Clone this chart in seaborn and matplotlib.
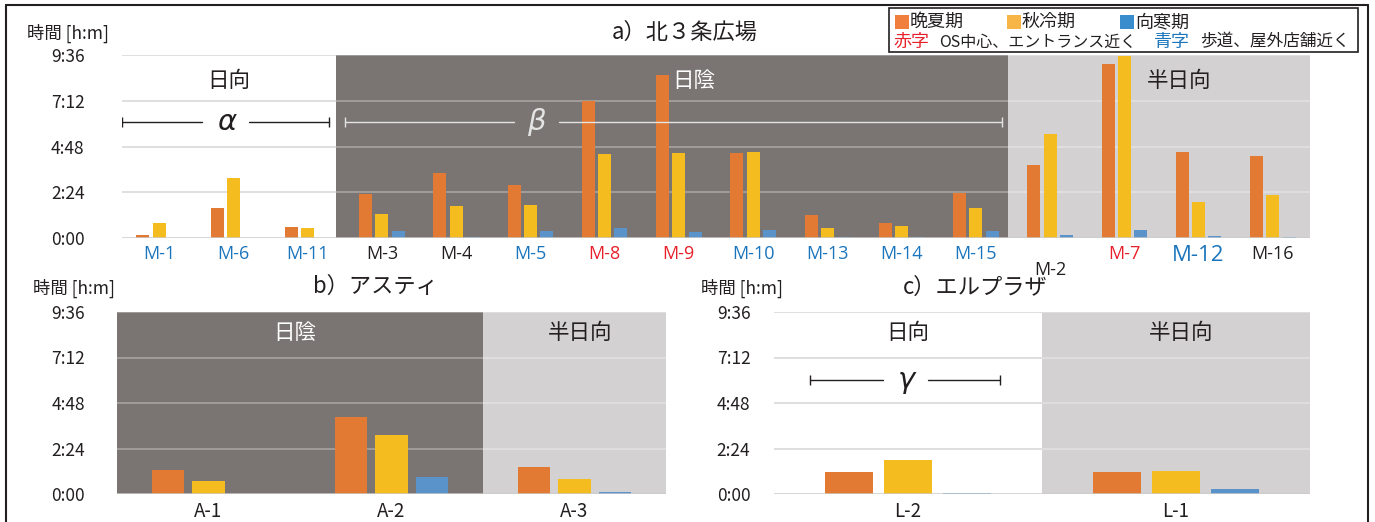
import matplotlib
matplotlib.use("Agg")
import matplotlib.pyplot as plt
import numpy as np
import pandas as pd
import seaborn as sns
from matplotlib import font_manager
from matplotlib.lines import Line2D
from matplotlib.patches import Rectangle

# ---------------- data (minutes of stay) ----------------
periods = ["晩夏期", "秋冷期", "向寒期"]

sites_a = ["M-1", "M-6", "M-11", "M-3", "M-4", "M-5", "M-8", "M-9",
           "M-10", "M-13", "M-14", "M-15", "M-2", "M-7", "M-12", "M-16"]
late_summer_a = [8, 93, 34, 139, 206, 168, 430, 512, 267, 71, 46, 143, 231, 547, 271, 259]
autumn_a = [47, 188, 30, 76, 100, 105, 264, 267, 271, 30, 39, 96, 326, 572, 114, 134]
early_winter_a = [0, 0, 0, 22, 4, 22, 30, 18, 26, 2, 2, 22, 9, 26, 5, 2]
label_kind_a = ["blue", "blue", "blue", "black", "black", "blue", "red", "red",
                "blue", "blue", "blue", "blue", "black", "red", "blue", "black"]
zones_a = ["日向", "日陰", "半日向"]
zone_edges_a = [-0.5, 2.38, 11.43, 15.5]

sites_b = ["A-1", "A-2", "A-3"]
late_summer_b = [77, 245, 85]
autumn_b = [41, 187, 46]
early_winter_b = [0, 54, 6]
zones_b = ["日陰", "半日向"]
zone_edges_b = [-0.5, 1.5, 2.5]

sites_c = ["L-2", "L-1"]
late_summer_c = [69, 69]
autumn_c = [107, 73]
early_winter_c = [3, 16]
zones_c = ["日向", "半日向"]
zone_edges_c = [-0.5, 0.5, 1.5]

tick_minutes = [0, 144, 288, 432, 576]
tick_labels = ["0:00", "2:24", "4:48", "7:12", "9:36"]

# ---------------- style ----------------
sns.set_theme(style="white")
JP = "Noto Sans CJK JP"
plt.rcParams["font.family"] = [JP, "DejaVu Sans"]
installed = {f.name for f in font_manager.fontManager.ttflist}
NARROW = "Liberation Sans Narrow" if "Liberation Sans Narrow" in installed else JP
LATIN = "Open Sans" if "Open Sans" in installed else JP

bar_colors = ["#E37A33", "#F4BC1E", "#5A93C9"]
legend_colors = ["#F07F3E", "#F7B548", "#3A8DCD"]
text_black = "#231F20"
label_colors = {"blue": "#1B75BC", "red": "#E8202A", "black": text_black}
zone_fill = {"日向": "#FFFFFF", "日陰": "#7A7572", "半日向": "#D3D1D2"}
zone_grid = {"日向": "#D9D9D9", "日陰": "#A7A3A0", "半日向": "#E2E1E2"}
zone_text = {"日向": text_black, "日陰": "#FFFFFF", "半日向": text_black}

W, H = 1375, 522
fig = plt.figure(figsize=(W / 100, H / 100), dpi=100)


def fx(x):
    return x / W


def fy(y):
    return 1 - y / H


def make_frame(sites, ls, au, ew):
    return pd.DataFrame({
        "site": np.repeat(sites, 3),
        "period": periods * len(sites),
        "minutes": np.column_stack([ls, au, ew]).ravel(),
    })


def panel(ax, sites, ls, au, ew, zones, edges, ytick_pad, shown_labels,
          label_font, label_sizes, label_cols):
    df = make_frame(sites, ls, au, ew)
    sns.barplot(data=df, x="site", y="minutes", hue="period", order=sites,
                hue_order=periods, palette=bar_colors, width=0.66, gap=0.2,
                saturation=1, errorbar=None, legend=False, ax=ax, zorder=3,
                linewidth=0)
    n = len(sites)
    ax.set_xlim(-0.5, n - 0.5)
    ax.set_ylim(0, 576)
    for name, lo, hi in zip(zones, edges[:-1], edges[1:]):
        ax.axvspan(lo, hi, color=zone_fill[name], lw=0, zorder=0)
        ax.hlines(tick_minutes[1:], lo, hi, colors=zone_grid[name], lw=1.2, zorder=1)
    ax.axhline(0, color="#CBCBCB", lw=1.8, zorder=4)
    for s in ax.spines.values():
        s.set_visible(False)
    ax.set_yticks(tick_minutes)
    ax.set_yticklabels(tick_labels, fontsize=12.5, color=text_black, family=[NARROW, JP])
    ax.tick_params(axis="y", length=0, pad=ytick_pad)
    ax.tick_params(axis="x", length=0, pad=5)
    ax.set_xticks(range(n))
    ax.set_xticklabels(shown_labels, family=[label_font, JP])
    for lbl, size, col in zip(ax.get_xticklabels(), label_sizes, label_cols):
        lbl.set_fontsize(size)
        lbl.set_color(col)
    ax.set_xlabel("")
    ax.set_ylabel("")
    return ax


def span_marker(ax, x0, x1, g0, g1, xc, y, sym, color):
    ax.plot([x0, g0], [y, y], color=color, lw=1.0, zorder=5)
    ax.plot([g1, x1], [y, y], color=color, lw=1.0, zorder=5)
    for xe in (x0, x1):
        ax.plot([xe], [y], marker="|", markersize=7, color=color, mew=1.0, zorder=5)
    ax.text(xc, y, sym, ha="center", va="center", fontsize=21, style="italic",
            family="DejaVu Sans", color=color, zorder=5)


# ---------------- a) 北３条広場 ----------------
ax_a = fig.add_axes([fx(122), fy(238), fx(1188), 183 / H])
shown_a = ["" if s == "M-2" else s for s in sites_a]
sizes_a = [16 if s == "M-12" else 13 for s in sites_a]
panel(ax_a, sites_a, late_summer_a, autumn_a, early_winter_a, zones_a, zone_edges_a,
      ytick_pad=27, shown_labels=shown_a, label_font=LATIN, label_sizes=sizes_a,
      label_cols=[label_colors[k] for k in label_kind_a])
ax_a.annotate("M-2", xy=(sites_a.index("M-2"), 0), xycoords=("data", "axes fraction"),
              xytext=(0, -23), textcoords="offset points", ha="center", va="center",
              fontsize=13, family=[LATIN, JP], color=label_colors["black"])

ax_a.text(0.94, 495, "日向", ha="center", va="center", fontsize=15.5, color=zone_text["日向"])
ax_a.text(7.2, 495, "日陰", ha="center", va="center", fontsize=15.5, color=zone_text["日陰"])
ax_a.text(13.74, 495, "半日向", ha="center", va="center", fontsize=15.5, color=zone_text["半日向"])

span_marker(ax_a, -0.5, 2.29, 0.58, 1.21, 0.91, 365, "α", text_black)
span_marker(ax_a, 2.5, 11.35, 4.78, 5.38, 5.08, 365, "β", "#E4E4E4")

# ---------------- b) アスティ ----------------
ax_b = fig.add_axes([fx(117), fy(494), fx(549), 182 / H])
panel(ax_b, sites_b, late_summer_b, autumn_b, early_winter_b, zones_b, zone_edges_b,
      ytick_pad=23, shown_labels=sites_b, label_font=NARROW,
      label_sizes=[13.5] * 3, label_cols=[text_black] * 3)
ax_b.text(0.47, 510, "日陰", ha="center", va="center", fontsize=15.5, color=zone_text["日陰"])
ax_b.text(2.03, 510, "半日向", ha="center", va="center", fontsize=15.5, color=zone_text["半日向"])

# ---------------- c) エルプラザ ----------------
ax_c = fig.add_axes([fx(774), fy(494), fx(536), 182 / H])
panel(ax_c, sites_c, late_summer_c, autumn_c, early_winter_c, zones_c, zone_edges_c,
      ytick_pad=17, shown_labels=sites_c, label_font=NARROW,
      label_sizes=[13.5] * 2, label_cols=[text_black] * 2)
ax_c.text(0.0, 510, "日向", ha="center", va="center", fontsize=15.5, color=zone_text["日向"])
ax_c.text(1.02, 510, "半日向", ha="center", va="center", fontsize=15.5, color=zone_text["半日向"])
span_marker(ax_c, -0.366, 0.343, -0.093, 0.075, -0.007, 360, "γ", text_black)

# ---------------- titles and axis captions ----------------
fig.text(fx(685), fy(32), "a）北３条広場", ha="center", va="center", fontsize=16, color=text_black)
fig.text(fx(375), fy(286), "b）アスティ", ha="center", va="center", fontsize=16, color=text_black)
fig.text(fx(975), fy(287), "c）エルプラザ", ha="center", va="center", fontsize=16, color=text_black)
for (cx, cy) in [(68, 33), (74, 288), (742, 288)]:
    fig.text(fx(cx), fy(cy), "時間 [h:m]", ha="center", va="center", fontsize=12.5,
             color=text_black)

# ---------------- legend box ----------------
fig.patches.append(Rectangle((fx(889), fy(52)), fx(1358 - 889), 44 / H,
                             transform=fig.transFigure, fill=False,
                             edgecolor=text_black, lw=1.2))
for x_sq, name, col in zip([895, 1007, 1120], periods, legend_colors):
    fig.patches.append(Rectangle((fx(x_sq), fy(29)), fx(14), 14 / H,
                                 transform=fig.transFigure, color=col, lw=0))
    fig.text(fx(x_sq + 15), fy(22), name, ha="left", va="center", fontsize=13,
             color=text_black)
fig.text(fx(893), fy(42), "赤字", ha="left", va="center", fontsize=13, color=label_colors["red"])
fig.text(fx(939), fy(42), "OS中心、エントランス近く", ha="left", va="center", fontsize=11.5,
         color=text_black)
fig.text(fx(1154), fy(42), "青字", ha="left", va="center", fontsize=13, color=label_colors["blue"])
fig.text(fx(1200), fy(42), "歩道、屋外店舗近く", ha="left", va="center", fontsize=12,
         color=text_black)

# ---------------- outer frame ----------------
for xs, ys in [([6, 6], [5, 530]), ([6, 1368], [5, 5]), ([1368, 1368], [5, 530])]:
    fig.lines.append(Line2D([fx(x) for x in xs], [fy(y) for y in ys],
                            transform=fig.transFigure, color=text_black, lw=1.5))

fig.savefig("out.png", dpi=100)
